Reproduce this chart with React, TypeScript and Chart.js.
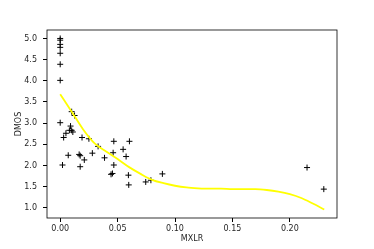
import React, { useEffect, useRef } from "react";
import { Chart, registerables } from "chart.js";

Chart.register(...registerables);

const pointX = [
  0, 0, 0, 0, 0, 0, 0, 0, 0.002, 0.003, 0.005, 0.007, 0.008, 0.009, 0.010, 0.011,
  0.010, 0.0125, 0.0165, 0.0174, 0.0174, 0.019, 0.021, 0.025, 0.028, 0.033, 0.0386,
  0.0443, 0.0455, 0.0467, 0.0461, 0.0467, 0.0548, 0.0574, 0.0594, 0.0597, 0.0603,
  0.0745, 0.079, 0.089, 0.215, 0.2296,
];
const pointY = [
  5.0, 4.96, 4.86, 4.79, 4.65, 4.39, 4.01, 3.01, 2.01, 2.66, 2.76, 2.24, 2.83, 2.93, 2.83, 2.79,
  3.27, 3.18, 2.26, 2.23, 1.97, 2.66, 2.13, 2.63, 2.29, 2.45, 2.18,
  1.79, 1.81, 2.57, 2.30, 2.01, 2.38, 2.21, 1.77, 1.54, 2.57,
  1.61, 1.65, 1.80, 1.95, 1.44,
];

const curveX = [
  0, 0.01, 0.02, 0.03, 0.04, 0.05, 0.06, 0.07, 0.08, 0.09, 0.1, 0.11, 0.12,
  0.13, 0.14, 0.15, 0.16, 0.17, 0.18, 0.19, 0.2, 0.21, 0.22, 0.23,
];
const curveY = [
  3.68, 3.27, 2.85, 2.52, 2.33, 2.15, 1.96, 1.80, 1.66, 1.58, 1.52, 1.48, 1.46,
  1.45, 1.45, 1.44, 1.44, 1.44, 1.42, 1.38, 1.32, 1.23, 1.10, 0.96,
];

const xTitle = "MXLR";
const yTitle = "DMOS";

export default function App() {
  const ref = useRef<HTMLCanvasElement | null>(null);
  useEffect(() => {
    document.body.style.margin = "0";
    const font = { family: "DejaVu Sans", size: 8 };
    const textColor = "#262626";
    const frame = {
      id: "frame",
      afterDraw(chart: any) {
        const { ctx, chartArea: a } = chart;
        ctx.save();
        ctx.strokeStyle = "#000";
        ctx.lineWidth = 0.8;
        ctx.strokeRect(a.left, a.top, a.right - a.left, a.bottom - a.top);
        ctx.restore();
      },
    };
    const chart = new Chart(ref.current as HTMLCanvasElement, {
      type: "scatter",
      data: {
        datasets: [
          {
            data: pointX.map((x, i) => ({ x, y: pointY[i] })),
            pointStyle: "cross",
            radius: 3,
            borderColor: "#000",
            borderWidth: 1,
            showLine: false,
            order: 2,
          },
          {
            data: curveX.map((x, i) => ({ x, y: curveY[i] })),
            showLine: true,
            borderColor: "#ffff00",
            borderWidth: 1.8,
            pointRadius: 0,
            cubicInterpolationMode: "monotone",
            order: 1,
          } as any,
        ],
      },
      options: {
        animation: false,
        responsive: false,
        events: [],
        layout: { padding: { left: 0, top: 30, right: 37, bottom: 0 } },
        plugins: { legend: { display: false }, tooltip: { enabled: false } },
        scales: {
          x: {
            type: "linear",
            min: -0.0115,
            max: 0.2411,
            border: { display: false },
            grid: { drawOnChartArea: false, drawTicks: true, tickLength: 4, color: "#000" },
            ticks: {
              stepSize: 0.05,
              includeBounds: false,
              autoSkip: false,
              maxRotation: 0,
              padding: 2,
              color: textColor,
              font,
              callback: (v: any) => Number(v).toFixed(2),
            },
            title: { display: true, text: xTitle, color: textColor, font, padding: { top: 0, bottom: 5 } },
            afterFit: (s: any) => {
              s.height = 31;
            },
          },
          y: {
            type: "linear",
            min: 0.758,
            max: 5.2,
            border: { display: false },
            grid: { drawOnChartArea: false, drawTicks: true, tickLength: 4, color: "#000" },
            ticks: {
              stepSize: 0.5,
              includeBounds: false,
              autoSkip: false,
              padding: 6,
              color: textColor,
              font,
              callback: (v: any) => Number(v).toFixed(1),
            },
            title: { display: true, text: yTitle, color: textColor, font, padding: { top: 14, bottom: 0 } },
            afterFit: (s: any) => {
              s.width = 47;
            },
          },
        },
      },
      plugins: [frame],
    });
    return () => chart.destroy();
  }, []);
  return (
    <div style={{ width: 374, height: 249 }}>
      <canvas ref={ref} width={374} height={249} style={{ display: "block" }} />
    </div>
  );
}
